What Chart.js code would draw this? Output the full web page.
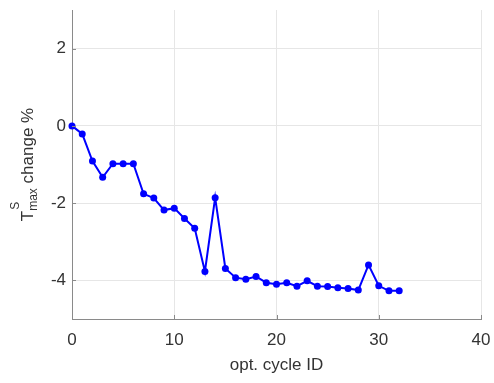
<!DOCTYPE html>
<html>
<head>
<meta charset="utf-8">
<script src="https://cdn.jsdelivr.net/npm/chart.js@4"></script>
<style>
  body { margin:0; background:#fff; }
  #wrap { width:494px; height:383px; position:relative; }
</style>
</head>
<body>
<div id="wrap"><canvas id="grafico"></canvas></div>
<script>
// dados
const cycleIds = [0,1,2,3,4,5,6,7,8,9,10,11,12,13,14,15,16,17,18,19,20,21,22,23,24,25,26,27,28,29,30,31,32];
const tmaxChange = [0,-0.21,-0.91,-1.33,-0.98,-0.98,-0.98,-1.76,-1.87,-2.18,-2.13,-2.40,-2.65,-3.77,-1.86,-3.69,-3.93,-3.97,-3.90,-4.06,-4.10,-4.06,-4.15,-4.01,-4.15,-4.16,-4.19,-4.21,-4.25,-3.60,-4.14,-4.27,-4.27];
const xTicks = [0,10,20,30,40];
const yTicks = [-4,-2,0,2];
const xLabel = 'opt. cycle ID';

const FONT = '"Liberation Sans", Arial, Helvetica, sans-serif';
const TXT = '#333333';
const AXIS = '#8a8a8a';

// titulo do eixo y com T^S_max (desenhado no canvas)
const yTitlePlugin = {
  id: 'yTitle',
  afterDraw(chart) {
    const ctx = chart.ctx, a = chart.chartArea;
    ctx.save();
    ctx.translate(33, (a.top + a.bottom) / 2);
    ctx.rotate(-Math.PI / 2);
    ctx.fillStyle = TXT;
    ctx.textBaseline = 'alphabetic';
    ctx.textAlign = 'left';
    ctx.font = '17px ' + FONT;
    const wT = ctx.measureText('T').width;
    const rest = ' change %';
    const wR = ctx.measureText(rest).width;
    ctx.font = '12px ' + FONT;
    const wS = Math.max(ctx.measureText('S').width, ctx.measureText('max').width);
    const total = wT + wS + wR;
    let x = -total / 2;
    ctx.font = '17px ' + FONT;
    ctx.fillText('T', x, 0);
    x += wT;
    ctx.font = '12px ' + FONT;
    ctx.fillText('S', x + 1, -14);
    ctx.fillText('max', x, 4);
    x += wS;
    ctx.font = '17px ' + FONT;
    ctx.fillText(rest, x, 0);
    ctx.restore();
  }
};

// marcas de escala para dentro, estilo matlab
const innerTicks = {
  id: 'innerTicks',
  afterDatasetsDraw(chart) {
    const ctx = chart.ctx, a = chart.chartArea;
    const sx = chart.scales.x, sy = chart.scales.y;
    ctx.save();
    ctx.strokeStyle = AXIS; ctx.lineWidth = 1;
    ctx.beginPath();
    xTicks.forEach(v => { const p = Math.round(sx.getPixelForValue(v)) + 0.5; ctx.moveTo(p, a.bottom); ctx.lineTo(p, a.bottom - 4); });
    yTicks.forEach(v => { const p = Math.round(sy.getPixelForValue(v)) + 0.5; ctx.moveTo(a.left, p); ctx.lineTo(a.left + 4, p); });
    ctx.stroke();
    ctx.restore();
  }
};

new Chart(document.getElementById('grafico'), {
  type: 'line',
  data: {
    datasets: [{
      data: cycleIds.map((c, i) => ({ x: c, y: tmaxChange[i] })),
      borderColor: '#0000ff', backgroundColor: '#0000ff',
      borderWidth: 2, pointRadius: 3.5, pointBorderWidth: 0,
      tension: 0, clip: false
    }]
  },
  options: {
    responsive: true, maintainAspectRatio: false, animation: false,
    layout: { padding: { left: 0, right: 13, top: 10, bottom: 0 } },
    plugins: { legend: { display: false }, tooltip: { enabled: false } },
    scales: {
      x: {
        type: 'linear', min: 0, max: 40,
        afterBuildTicks: s => { s.ticks = xTicks.map(v => ({ value: v })); },
        afterFit: s => { s.height = 64; s.paddingLeft = 0; s.paddingRight = 0; },
        grid: { color: '#e6e6e6', drawTicks: false },
        border: { color: AXIS, width: 1 },
        ticks: { color: TXT, font: { family: FONT, size: 17 }, padding: 11, maxRotation: 0 },
        title: { display: true, text: xLabel, color: TXT, font: { family: FONT, size: 17 }, padding: { top: 0, bottom: 7 } }
      },
      y: {
        type: 'linear', min: -5, max: 3,
        afterBuildTicks: s => { s.ticks = yTicks.map(v => ({ value: v })); },
        afterFit: s => { s.width = 72; s.paddingTop = 0; s.paddingBottom = 0; },
        grid: { color: '#e6e6e6', drawTicks: false },
        border: { color: AXIS, width: 1 },
        ticks: { color: TXT, font: { family: FONT, size: 17 }, padding: 6 }
      }
    }
  },
  plugins: [yTitlePlugin, innerTicks]
});
</script>
</body>
</html>
